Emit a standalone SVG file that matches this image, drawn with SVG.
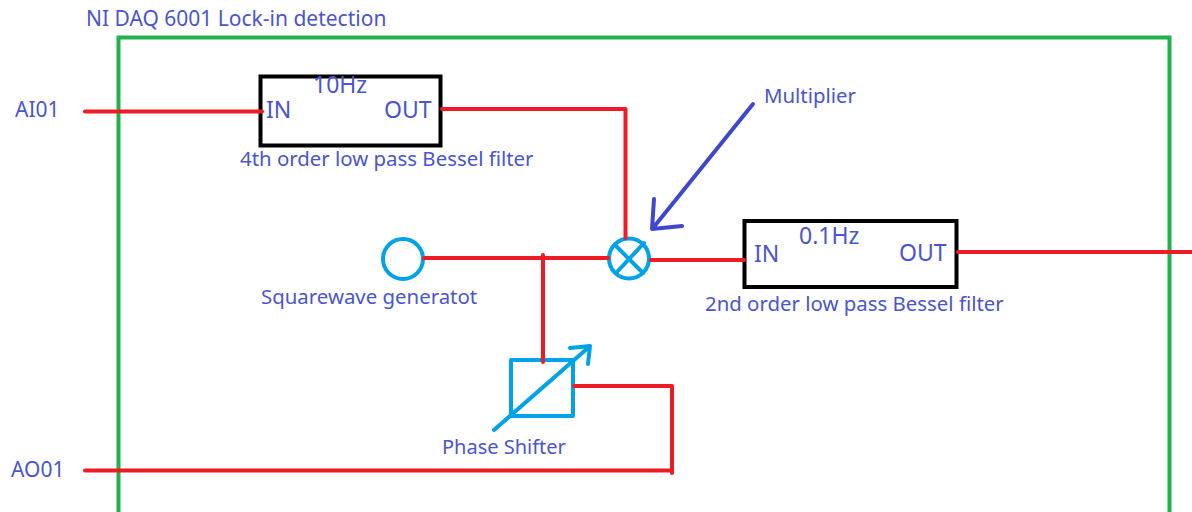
<svg xmlns="http://www.w3.org/2000/svg" width="1192" height="512" viewBox="0 0 1192 512">
<style>
text{font-family:"Noto Sans","Open Sans",sans-serif;fill:#4a55d0}
.l{font-size:20.400px}
.n{font-size:21px}
.p{font-size:23px}
.w{fill:none;stroke:#ed1c24;stroke-width:4;stroke-linecap:round;stroke-linejoin:round}
.c{fill:none;stroke:#00a2e8;stroke-width:4;stroke-linecap:round;stroke-linejoin:round}
.b{fill:#fff;stroke:#000;stroke-width:4}
</style>
<rect width="1192" height="512" fill="#fff"/>
<g id="frame"><path d="M118.500 512V37.500H1169.500V512" fill="none" stroke="#22b14c" stroke-width="4"/><text class="n" x="86" y="26">NI DAQ 6001 Lock-in detection</text></g>
<g id="filter1"><rect class="b" x="260.500" y="76.500" width="180" height="69"/><text class="p" x="313" y="93">10Hz</text><text class="p" x="266" y="118">IN</text><text class="p" x="384" y="118">OUT</text><text class="l" x="240" y="166">4th order low pass Bessel filter</text></g>
<g id="filter2"><rect class="b" x="744.500" y="221" width="212" height="66"/><text class="p" x="799" y="244">0.1Hz</text><text class="p" x="754" y="262">IN</text><text class="p" x="899" y="261">OUT</text><text class="l" x="705" y="311">2nd order low pass Bessel filter</text></g>
<g id="generator"><circle class="c" cx="403" cy="259" r="20"/><text class="l" x="261" y="304">Squarewave generatot</text></g>
<g id="multiplier"><circle class="c" cx="629" cy="258.500" r="20"/><path class="c" d="M615 245L643 273M644 243L616 273"/><text class="l" x="764" y="103">Multiplier</text></g>
<g id="shifter"><rect class="c" x="511" y="360" width="62" height="56"/><path class="c" d="M494 430L589 347M570 348L590 346L588 364"/><text x="442" y="454" font-size="20">Phase Shifter</text></g>
<g id="ai"><text class="n" x="15" y="117">AI01</text></g>
<g id="ao"><text class="n" x="11" y="477">AO01</text></g>
<g id="connectors">
<path class="w" d="M85 111.500H262M442 109H625.500V238M424 258H608M543 255V362M651 260H744M958 252H1192M574 386H672V473M85 470.500H672"/>
<path d="M753 104L653 228M654 199L652 229L682 226" fill="none" stroke="#3f48cc" stroke-width="4" stroke-linecap="round" stroke-linejoin="round"/>
</g>
</svg>
